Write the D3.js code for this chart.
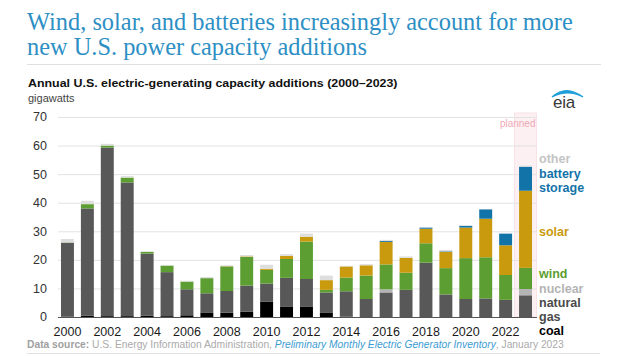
<!DOCTYPE html>
<html><head><meta charset="utf-8">
<script src="https://cdn.jsdelivr.net/npm/d3@7"></script>
<style>body{margin:0;background:#fff}svg{display:block}</style>
</head><body>
<svg id="c" width="631" height="356"></svg>
<script>
const years = d3.range(2000, 2024);
const coal    = [0.1,0.5,0.3,0.3,0.5,0.3,0.6,1.6,1.5,1.9,5.3,3.7,3.7,1.6,0.1,0,0,0,0,0,0,0,0,0];
const gas     = [25.9,37.5,59.0,46.8,21.7,15.4,9.1,6.7,7.6,9.1,6.4,10.0,9.6,7.0,8.9,6.3,8.6,9.5,19.0,7.9,6.3,6.5,6.0,7.6];
const nuclear = [0,0,0,0,0,0,0,0,0,0,0,0,0,0,0,0,1.1,0,0,0,0,0,0,2.2];
const wind    = [0.1,1.5,0.7,1.7,0.6,2.3,2.7,5.3,8.6,10.0,4.8,6.6,13.1,0.9,4.8,8.2,8.7,6.0,6.8,9.2,14.3,14.4,8.7,7.4];
const solar   = [0,0,0,0,0,0,0,0,0.1,0.2,0.4,1.1,1.7,3.4,3.9,3.6,7.9,5.2,5.1,5.7,10.7,13.5,10.4,27.0];
const battery = [0,0,0,0,0,0,0,0,0,0,0,0,0,0,0,0,0.3,0,0.4,0.2,0.6,3.3,4.1,8.4];
const other   = [1.2,1.2,0.6,0.5,0.2,0.2,0.3,0.4,0.3,0.5,1.4,0.6,1.1,1.6,0.2,0.4,0.4,0.5,0.1,0.5,0.2,0.1,0.1,0.4];
const yTicks = [0,10,20,30,40,50,60,70];
const xTickYears = d3.range(2000, 2024, 2);
const plannedYears = [2023];

const seriesKeys = ["coal","gas","nuclear","wind","solar","battery","other"];
const seriesData = {coal, gas, nuclear, wind, solar, battery, other};
const colors = {coal:"#000000", gas:"#585858", nuclear:"#b4b4b4", wind:"#5c9e31", solar:"#c99a0d", battery:"#1273a9", other:"#dedede"};

const table = years.map((y,i)=>{ const o={year:y}; seriesKeys.forEach(k=>o[k]=seriesData[k][i]); return o; });

const svg = d3.select("#c");

function fitText(sel, target){
  const w = sel.node().getComputedTextLength();
  return target / w;
}

// Title
const title = svg.append("g").attr("font-family","'Liberation Serif','Times New Roman',serif")
  .attr("font-size",25).attr("fill","#2d8fc4");
const t1 = title.append("text").attr("x",0).attr("y",30).text("Wind, solar, and batteries increasingly account for more");
const t2 = title.append("text").attr("x",0).attr("y",55).text("new U.S. power capacity additions");
const kT = fitText(t1, 546);
title.attr("transform",`translate(27,0) scale(${kT},1)`);

svg.append("line").attr("x1",27).attr("x2",601).attr("y1",64.5).attr("y2",64.5).attr("stroke","#e0e0e0");

// Subtitle
const sub = svg.append("text").attr("font-family","'Liberation Sans',Arial,sans-serif").attr("font-weight","bold")
  .attr("font-size",11.5).attr("fill","#111").attr("y",87.5).text("Annual U.S. electric-generating capacity additions (2000\u20132023)");
const kS = fitText(sub, 370);
sub.attr("transform",`translate(28,0) scale(${kS},1)`);
svg.append("text").attr("x",28).attr("y",102).attr("font-family","'Liberation Sans',Arial,sans-serif")
  .attr("font-size",11).attr("fill","#444").text("gigawatts");

// eia logo
svg.append("text").attr("x",553).attr("y",108).attr("font-family","'Liberation Sans',Arial,sans-serif")
  .attr("font-size",17).attr("fill","#3a3a3a").attr("letter-spacing",-0.3).text("eia");
svg.append("path").attr("d","M552,97 Q566,84 583,97 Q568,89 552,97 Z").attr("fill","#1d9fd9")
  .attr("stroke","#1d9fd9").attr("stroke-width",1.2);

// Scales
const x = d3.scaleBand().domain(years).range([57,536]).paddingInner(0.35).paddingOuter(0.2);
const y = d3.scaleLinear().domain([0,70]).range([317,117]);
const gridX0 = 58, gridX1 = 537;

// planned band
plannedYears.forEach(py=>{
  const pad = x.step()*x.paddingInner()/2;
  svg.append("rect").attr("x",x(py)-pad-1).attr("y",y(70)-4).attr("width",x.bandwidth()+2*pad+2)
    .attr("height",y(0)-y(70)+4).attr("fill","#fcf0f2").attr("stroke","#f8e2e6").attr("stroke-width",1);
  svg.append("text").attr("x",x(py)+x.bandwidth()+pad).attr("y",127).attr("text-anchor","end")
    .attr("font-family","'Liberation Sans',Arial,sans-serif").attr("font-size",10).attr("fill","#f0a8b5").text("planned");
});

// grid
svg.append("g").selectAll("line").data(yTicks.filter(d=>d>0)).join("line")
  .attr("x1",gridX0).attr("x2",gridX1).attr("y1",d=>y(d)+0.5).attr("y2",d=>y(d)+0.5)
  .attr("stroke","#e2e2e2").attr("stroke-width",1);

// y labels
svg.append("g").selectAll("text").data(yTicks).join("text")
  .attr("x",47).attr("y",d=>y(d)).attr("dy","0.35em").attr("text-anchor","end")
  .attr("font-family","'Liberation Sans',Arial,sans-serif").attr("font-size",12.5).attr("fill","#333").text(d=>d);

// bars
const stack = d3.stack().keys(seriesKeys)(table);
svg.append("g").selectAll("g").data(stack).join("g").attr("fill",d=>colors[d.key])
  .selectAll("rect").data(d=>d).join("rect")
  .attr("x",d=>x(d.data.year)).attr("width",x.bandwidth())
  .attr("y",d=>y(d[1])).attr("height",d=>Math.max(0,y(d[0])-y(d[1])));

// baseline
svg.append("line").attr("x1",gridX0).attr("x2",gridX1).attr("y1",y(0)+0.5).attr("y2",y(0)+0.5)
  .attr("stroke","#555").attr("stroke-width",1);

// x labels
svg.append("g").selectAll("text").data(xTickYears).join("text")
  .attr("x",d=>x(d)+x.bandwidth()/2).attr("y",336).attr("text-anchor","middle")
  .attr("font-family","'Liberation Sans',Arial,sans-serif").attr("font-size",12.5).attr("fill","#1a1a1a").text(d=>d);

// legend
const legendItems = [
  {t:"other", y:163, c:"#c4c4c4"},
  {t:"battery", y:178, c:colors.battery},
  {t:"storage", y:192, c:colors.battery},
  {t:"solar", y:236, c:colors.solar},
  {t:"wind", y:278, c:colors.wind},
  {t:"nuclear", y:293, c:"#b4b4b4"},
  {t:"natural", y:307, c:"#4a4a4a"},
  {t:"gas", y:321, c:"#4a4a4a"},
  {t:"coal", y:335, c:"#000"}
];
svg.append("g").selectAll("text").data(legendItems).join("text")
  .attr("x",539).attr("y",d=>d.y).attr("font-family","'Liberation Sans',Arial,sans-serif")
  .attr("font-weight","bold").attr("font-size",12.5).attr("fill",d=>d.c).text(d=>d.t);

// footer
const foot = svg.append("text").attr("y",348).attr("font-family","'Liberation Sans',Arial,sans-serif").attr("font-size",10.5);
foot.append("tspan").attr("font-weight","bold").attr("fill","#9f9f9f").text("Data source: ");
foot.append("tspan").attr("fill","#aaa").text("U.S. Energy Information Administration, ");
foot.append("tspan").attr("fill","#3b9bd3").attr("font-style","italic").text("Preliminary Monthly Electric Generator Inventory");
foot.append("tspan").attr("fill","#aaa").text(", January 2023");
const kF = fitText(foot, 538);
foot.attr("transform",`translate(27,0) scale(${kF},1)`);
svg.append("line").attr("x1",27).attr("x2",600).attr("y1",353.5).attr("y2",353.5).attr("stroke","#e0e0e0");
</script>
</body></html>
